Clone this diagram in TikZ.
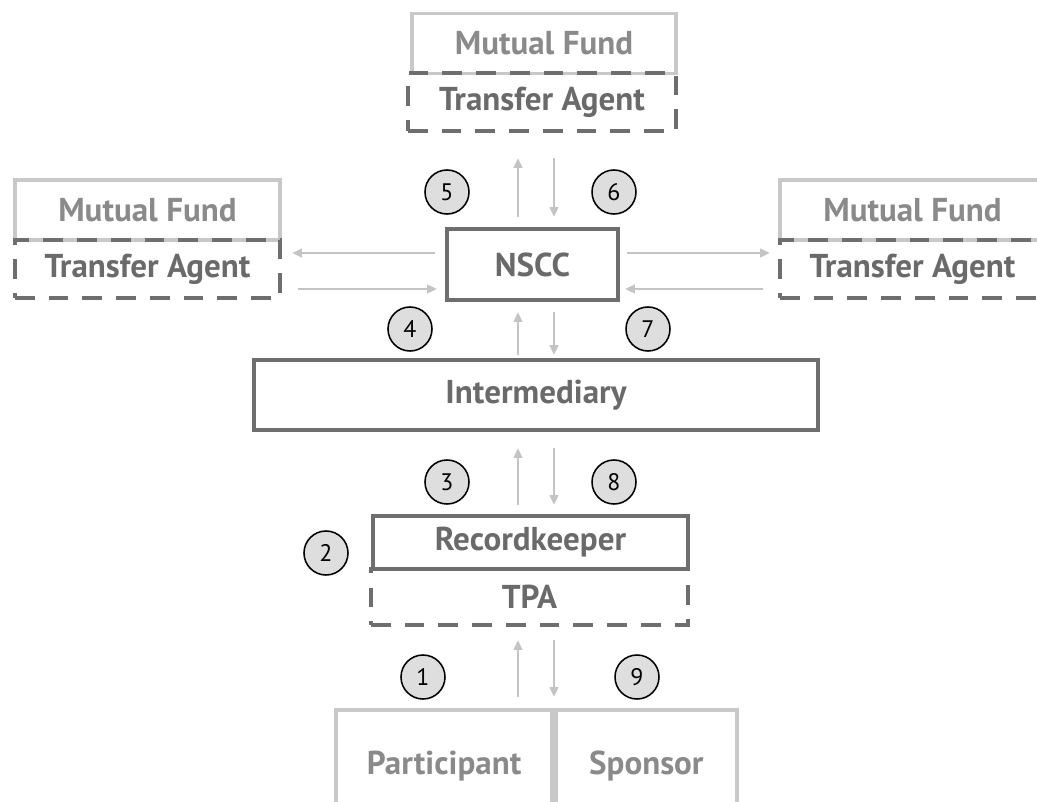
\documentclass[tikz,border=0pt]{standalone}
\usepackage{fontspec}
\setmainfont{PT Sans}
\usetikzlibrary{positioning, arrows.meta}
\definecolor{boxlight}{HTML}{C8C8C8}
\definecolor{boxdark}{HTML}{6E6E6E}
\definecolor{txtlight}{HTML}{8A8A8A}
\definecolor{txtdark}{HTML}{6A6A6A}
\definecolor{arrowgray}{HTML}{C4C4C4}
\definecolor{stepfill}{HTML}{DEDEDE}
\begin{document}
\begin{tikzpicture}[x=0.025cm, y=-0.025cm]
% Define styles
\tikzstyle{fund} = [rectangle, draw=boxlight, line width=2.6pt, text=txtlight, font=\bfseries\fontsize{23.5}{26}\selectfont, minimum width=6.6cm, minimum height=1.5cm, inner sep=0pt]
\tikzstyle{agent} = [rectangle, draw=boxdark, line width=2.6pt, dash pattern=on 14pt off 10pt, text=txtdark, font=\bfseries\fontsize{23.5}{26}\selectfont, minimum width=6.7cm, minimum height=1.45cm, inner sep=0pt]
\tikzstyle{party} = [rectangle, draw=boxdark, line width=2.9pt, text=txtdark, font=\bfseries\fontsize{23.5}{26}\selectfont, inner sep=0pt]
\tikzstyle{client} = [rectangle, draw=boxlight, line width=2.6pt, text=txtlight, font=\bfseries\fontsize{23.5}{26}\selectfont, inner sep=0pt]
\tikzstyle{stepnum} = [circle, draw=black, line width=1.1pt, fill=stepfill, minimum size=1.1cm, inner sep=0pt, font=\fontsize{17}{19}\selectfont]
\tikzstyle{flow} = [-{Triangle[width=6pt, length=7pt]}, line width=1.8pt, draw=arrowgray]
\useasboundingbox (0,0) rectangle (1037,801);
% Mutual funds and transfer agents
\node[fund] (TopFund) at (544,43.5) {Mutual Fund};
\node[agent] (TopAgent) at (542,102) {Transfer Agent};
\node[fund, minimum width=6.625cm] (LeftFund) at (147.5,210) {Mutual Fund};
\node[agent, minimum width=6.625cm] (LeftAgent) at (147.5,269) {Transfer Agent};
\node[fund, minimum width=6.625cm] (RightFund) at (912.5,210) {Mutual Fund};
\node[agent, minimum width=6.625cm] (RightAgent) at (912.5,269) {Transfer Agent};
% Clearing and intermediary
\node[party, minimum width=4.275cm, minimum height=1.775cm] (NSCC) at (532.5,264.5) {NSCC};
\node[party, minimum width=14.1cm, minimum height=1.75cm] (Intermediary) at (536,395) {Intermediary};
% Recordkeeper and TPA
\node[agent, text=txtdark, minimum width=7.925cm, minimum height=1.4cm, text depth=0pt] (TPA) at (529.5,597) {\raisebox{1pt}{TPA}};
\node[party, minimum width=7.875cm, minimum height=1.325cm] (Recordkeeper) at (530.5,542.5) {Recordkeeper};
% Participant and sponsor
\node[client, minimum width=5.4cm, minimum height=3.05cm, anchor=north east] (Participant) at (554,708) {\raisebox{0.4cm}{Participant}};
\node[client, minimum width=4.525cm, minimum height=3.05cm, anchor=north west] (Sponsor) at (554,708) {\raisebox{0.4cm}{Sponsor}};
% Helper coordinates for arrows
\coordinate (TopUpA) at (518,217);
\coordinate (TopUpB) at (518,158);
\coordinate (TopDnA) at (554,158);
\coordinate (TopDnB) at (554,217);
\coordinate (LeftOutA) at (435,253);
\coordinate (LeftOutB) at (292,253);
\coordinate (LeftInA) at (298,289);
\coordinate (LeftInB) at (437,289);
\coordinate (RightOutA) at (627,253);
\coordinate (RightOutB) at (770,253);
\coordinate (RightInA) at (763,289);
\coordinate (RightInB) at (625,289);
\coordinate (MidUpA) at (518,355);
\coordinate (MidUpB) at (518,312);
\coordinate (MidDnA) at (554,312);
\coordinate (MidDnB) at (554,355);
\coordinate (RkUpA) at (518,505);
\coordinate (RkUpB) at (518,448);
\coordinate (RkDnA) at (554,448);
\coordinate (RkDnB) at (554,505);
\coordinate (PtUpA) at (518,697);
\coordinate (PtUpB) at (518,640);
\coordinate (PtDnA) at (554,640);
\coordinate (PtDnB) at (554,697);
% Flows (arrows)
\draw[flow] (TopUpA) -- (TopUpB);
\draw[flow] (TopDnA) -- (TopDnB);
\draw[flow] (LeftOutA) -- (LeftOutB);
\draw[flow] (LeftInA) -- (LeftInB);
\draw[flow] (RightOutA) -- (RightOutB);
\draw[flow] (RightInA) -- (RightInB);
\draw[flow] (MidUpA) -- (MidUpB);
\draw[flow] (MidDnA) -- (MidDnB);
\draw[flow] (RkUpA) -- (RkUpB);
\draw[flow] (RkDnA) -- (RkDnB);
\draw[flow] (PtUpA) -- (PtUpB);
\draw[flow] (PtDnA) -- (PtDnB);
% Step numbers
\node[stepnum] (Step1) at (423,677) {1};
\node[stepnum] (Step2) at (326,553) {2};
\node[stepnum] (Step3) at (447,482) {3};
\node[stepnum] (Step4) at (410,329) {4};
\node[stepnum] (Step5) at (447,192) {5};
\node[stepnum] (Step6) at (614,192) {6};
\node[stepnum] (Step7) at (648,329) {7};
\node[stepnum] (Step8) at (614,482) {8};
\node[stepnum] (Step9) at (637,677) {9};
\end{tikzpicture}
\end{document}
